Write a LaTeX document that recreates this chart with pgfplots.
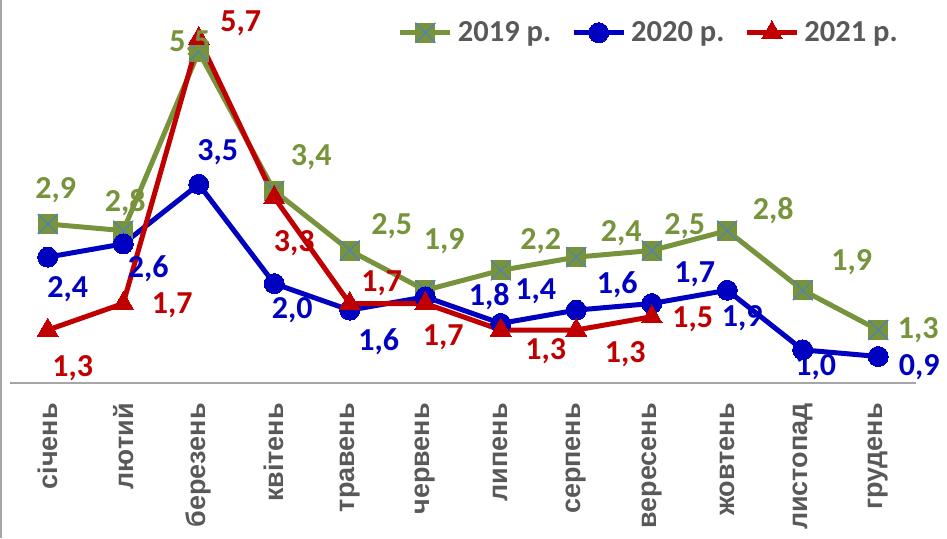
\documentclass[border=0pt]{standalone}
\usepackage{pgfplots}
\pgfplotsset{compat=1.18}
\usepackage{pgfplotstable}
\usepackage{fontspec}
\setmainfont{Carlito}
\newfontfamily\tickfont{Liberation Sans}
\definecolor{cgreen}{HTML}{77933C}
\definecolor{cblue}{HTML}{0000C0}
\definecolor{cred}{HTML}{C00000}
\definecolor{cxline}{HTML}{4F81BD}
\definecolor{textgray}{HTML}{595959}
\definecolor{axgray}{HTML}{A6A6A6}

\pgfdeclareplotmark{sqx}{%
  \pgfpathrectangle{\pgfpoint{-\pgfplotmarksize}{-\pgfplotmarksize}}{\pgfpoint{2\pgfplotmarksize}{2\pgfplotmarksize}}%
  \pgfsetfillcolor{cgreen}\pgfusepath{fill}%
  \pgfsetstrokecolor{cxline}\pgfsetlinewidth{1.2pt}%
  \pgfpathmoveto{\pgfpoint{-\pgfplotmarksize}{-\pgfplotmarksize}}%
  \pgfpathlineto{\pgfpoint{\pgfplotmarksize}{\pgfplotmarksize}}%
  \pgfpathmoveto{\pgfpoint{-\pgfplotmarksize}{\pgfplotmarksize}}%
  \pgfpathlineto{\pgfpoint{\pgfplotmarksize}{-\pgfplotmarksize}}%
  \pgfusepath{stroke}%
}

\pgfplotstableread{
x y dx dy
0 2.9 8 34
1 2.8 2 28
2 5.5 -9 8
3 3.4 37 34
4 2.5 42 24
5 1.9 19 49
6 2.2 40 29
7 2.4 45 24
8 2.5 33 24
9 2.8 46 20
10 1.9 49 28
11 1.3 40 0
}\tnineteen
\pgfplotstableread{
x y dx dy
0 2.4 20 -32
1 2.6 25 -25
2 3.5 19 32
3 2.0 18 -27
4 1.6 29 -32
5 1.8 64 0
6 1.4 35 32
7 1.6 41 25
8 1.7 43 29
9 1.9 15 -28
10 1.0 13 -17
11 0.9 41 -11
}\ttwenty
\pgfplotstableread{
x y dx dy
0 1.3 25 -38
1 1.7 49 -2
2 5.7 42 15
3 3.3 20 -46
4 1.7 32 20
5 1.7 18 -34
6 1.3 45 -21
7 1.3 49 -24
8 1.5 41 -3
}\ttwentyone

\pgfplotsset{
  lbl/.style={
    draw=none, mark=none, forget plot,
    nodes near coords,
    point meta=explicit,
    visualization depends on={\thisrow{dx} \as \dx},
    visualization depends on={\thisrow{dy} \as \dy},
    every node near coord/.append style={anchor=center, xshift=\dx pt, yshift=\dy pt,
      font=\bfseries\fontsize{32}{32}\selectfont, inner sep=0pt, text=#1},
  },
}

\begin{document}
\begin{tikzpicture}
\useasboundingbox (0,0) rectangle (947pt,538pt);
\draw[axgray, line width=1.5pt] (1pt,0) -- (1pt,538pt);
\begin{axis}[
  at={(10pt,155pt)}, anchor=south west,
  scale only axis, width=906pt, height=364.375pt,
  xmin=-0.5, xmax=11.5, ymin=0.5, ymax=6,
  clip=false,
  axis x line*=bottom, axis y line=none,
  x axis line style={axgray, line width=1.5pt, -},
  xtick={0,...,11},
  xticklabels={січень,лютий,березень,квітень,травень,червень,липень,серпень,вересень,жовтень,листопад,грудень},
  xtick style={draw=none},
  xticklabel style={rotate=90, anchor=east, inner sep=0pt, xshift=-20pt,
    font=\tickfont\bfseries\fontsize{27}{27}\selectfont, text=textgray},
  ytick=\empty,
  /pgf/number format/.cd, use comma, fixed, fixed zerofill, precision=1, assume math mode=true,
  /pgfplots/.cd,
  legend columns=3,
  legend image code/.code={\draw[mark repeat=2,mark phase=2] plot coordinates {(0pt,0pt)(25pt,0pt)(50pt,0pt)};},
  legend style={draw=none, fill=none, at={(0.428,0.963)}, anchor=west,
    font=\bfseries\fontsize{30.5}{30.5}\selectfont, text=textgray, inner sep=0pt,
    column sep=5pt, /tikz/every even column/.append style={column sep=20pt},
    nodes={inner sep=0pt}},
  every axis plot/.append style={line width=5pt},
]
\addplot[cgreen, mark=sqx, mark size=10pt, mark options={line width=1.2pt}]
  table[x=x, y=y] {\tnineteen};
\addlegendentry{2019 р.}
\addplot[cblue, mark=*, mark size=10pt, mark options={line width=0pt, fill=cblue}]
  table[x=x, y=y] {\ttwenty};
\addlegendentry{2020 р.}
\addplot[cred, mark=triangle*, mark size=12pt, mark options={line width=0pt, fill=cred}]
  table[x=x, y=y] {\ttwentyone};
\addlegendentry{2021 р.}
\addplot[lbl=cgreen] table[x=x, y=y, meta=y] {\tnineteen};
\addplot[lbl=cblue] table[x=x, y=y, meta=y] {\ttwenty};
\addplot[lbl=cred] table[x=x, y=y, meta=y] {\ttwentyone};
\end{axis}
\end{tikzpicture}
\end{document}
